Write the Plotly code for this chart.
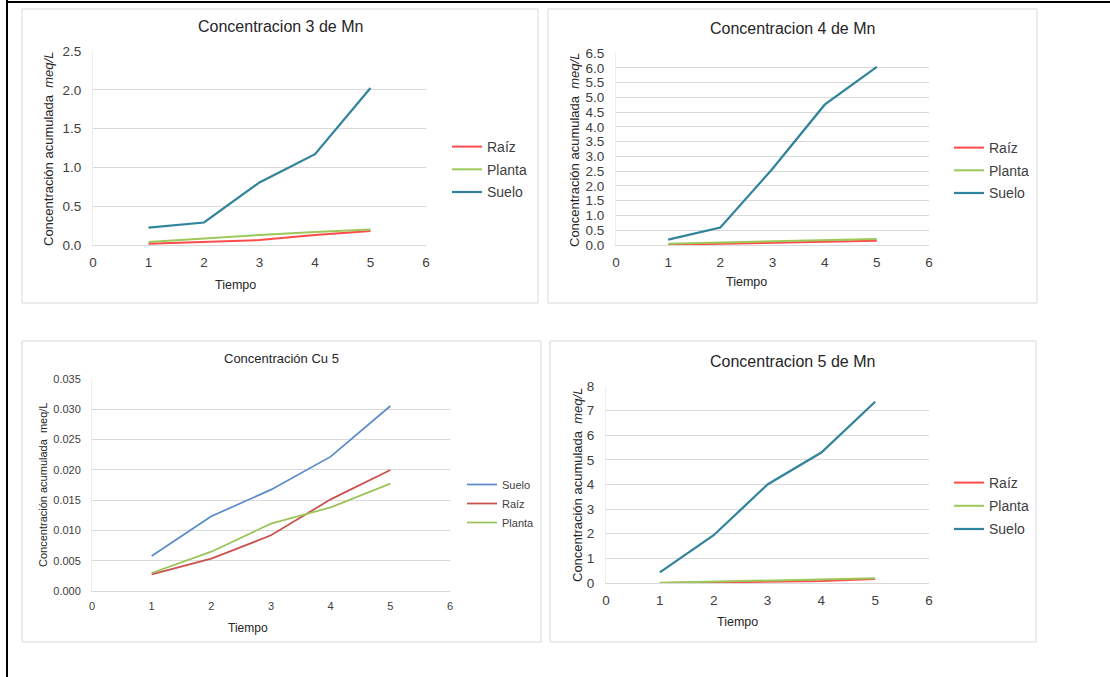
import plotly.graph_objects as go

W, H = 1110, 677

# ---------------- data ----------------
tiempo = [1, 2, 3, 4, 5]

# Panel 1: Concentracion 3 de Mn
mn3_raiz = [0.017, 0.04, 0.064, 0.13, 0.18]
mn3_planta = [0.04, 0.086, 0.13, 0.167, 0.20]
mn3_suelo = [0.223, 0.29, 0.806, 1.17, 2.024]

# Panel 2: Concentracion 4 de Mn
mn4_raiz = [0.01, 0.045, 0.08, 0.11, 0.14]
mn4_planta = [0.045, 0.08, 0.12, 0.17, 0.20]
mn4_suelo = [0.18, 0.59, 2.58, 4.75, 6.03]

# Panel 3: Concentración Cu 5
cu5_suelo = [0.00578, 0.01233, 0.01673, 0.02218, 0.03054]
cu5_raiz = [0.00275, 0.00534, 0.00919, 0.01513, 0.01998]
cu5_planta = [0.00297, 0.00649, 0.01112, 0.01381, 0.01772]

# Panel 4: Concentracion 5 de Mn
mn5_raiz = [0.0, 0.02, 0.05, 0.08, 0.16]
mn5_planta = [0.01, 0.05, 0.11, 0.14, 0.19]
mn5_suelo = [0.43, 1.94, 4.0, 5.30, 7.36]

titles = ["Concentracion 3 de Mn", "Concentracion 4 de Mn",
          "Concentración Cu 5", "Concentracion 5 de Mn"]
x_title = "Tiempo"
y_title_mn = "Concentración acumulada  <i>meq/L</i>"
y_title_cu = "Concentración acumulada  meq/L"

# ---------------- styling ----------------
FONT = "Liberation Sans, Arial, sans-serif"
C_RAIZ, C_PLANTA, C_SUELO = "#FF4B4B", "#9CC95A", "#31849B"
CU_SUELO, CU_RAIZ, CU_PLANTA = "#5B8BCB", "#C9504D", "#9BC35A"
GRID = "#D9D9D9"

def px(x):
    return x / W

def py(y):
    return 1 - y / H

# plot-area rectangles (left, top, right, bottom) in pixels
areas = [(93, 51, 426, 245), (616, 53, 929, 245),
         (92, 379, 450, 591), (606, 386, 929, 583)]

fig = go.Figure()

def add(panel, name, y, color, width, legend):
    sfx = "" if panel == 0 else str(panel + 1)
    fig.add_trace(go.Scatter(
        x=tiempo, y=y, name=name, mode="lines",
        line=dict(color=color, width=width),
        xaxis="x" + sfx, yaxis="y" + sfx,
        legend=legend, legendgroup=f"{legend}{name}",
    ))

add(0, "Raíz", mn3_raiz, C_RAIZ, 2, "legend")
add(0, "Planta", mn3_planta, C_PLANTA, 2, "legend")
add(0, "Suelo", mn3_suelo, C_SUELO, 2.25, "legend")

add(1, "Raíz", mn4_raiz, C_RAIZ, 2, "legend2")
add(1, "Planta", mn4_planta, C_PLANTA, 2, "legend2")
add(1, "Suelo", mn4_suelo, C_SUELO, 2.25, "legend2")

add(2, "Suelo", cu5_suelo, CU_SUELO, 1.75, "legend3")
add(2, "Raíz", cu5_raiz, CU_RAIZ, 1.75, "legend3")
add(2, "Planta", cu5_planta, CU_PLANTA, 1.75, "legend3")

add(3, "Raíz", mn5_raiz, C_RAIZ, 2, "legend4")
add(3, "Planta", mn5_planta, C_PLANTA, 2, "legend4")
add(3, "Suelo", mn5_suelo, C_SUELO, 2.25, "legend4")

yspecs = [
    dict(range=[0, 2.5], dtick=0.5, tickformat=".1f", size=13.5),
    dict(range=[0, 6.5], dtick=0.5, tickformat=".1f", size=13.5),
    dict(range=[0, 0.035], dtick=0.005, tickformat=".3f", size=11),
    dict(range=[0, 8], dtick=1, tickformat="d", size=13.5),
]

layout = dict(
    template="none",
    width=W, height=H,
    margin=dict(l=0, r=0, t=0, b=0, pad=0, autoexpand=False),
    paper_bgcolor="white", plot_bgcolor="white",
    font=dict(family=FONT, color="#404040"),
    showlegend=True,
)

for i, (l, t, r, b) in enumerate(areas):
    sfx = "" if i == 0 else str(i + 1)
    ys = yspecs[i]
    layout["xaxis" + sfx] = dict(
        domain=[px(l), px(r)], anchor="y" + sfx, range=[0, 6], dtick=1,
        showgrid=False, zeroline=False, showline=True, linecolor=GRID,
        linewidth=1, ticks="", ticklabelstandoff=5, automargin=False,
        tickfont=dict(size=ys["size"], color="#404040"), fixedrange=True,
    )
    layout["yaxis" + sfx] = dict(
        domain=[py(b), py(t)], anchor="x" + sfx, range=ys["range"],
        dtick=ys["dtick"], tickformat=ys["tickformat"],
        showgrid=True, gridcolor=GRID, gridwidth=1, zeroline=False,
        showline=True, linecolor="#EDEDED", linewidth=1, ticks="",
        ticklabelstandoff=8, automargin=False,
        tickfont=dict(size=ys["size"], color="#404040"), fixedrange=True,
    )

legend_specs = [
    ("legend", 447, 131, 14, 1.5),
    ("legend2", 949, 132, 14, 1.5),
    ("legend3", 462, 470, 11, 0),
    ("legend4", 949, 467, 14, 2),
]
for key, lx, ly, fs, gap in legend_specs:
    layout[key] = dict(
        x=px(lx), y=py(ly), xanchor="left", yanchor="top",
        xref="paper", yref="paper",
        font=dict(size=fs, color="#404040", family=FONT),
        bgcolor="rgba(0,0,0,0)", borderwidth=0,
        traceorder="grouped", tracegroupgap=gap, itemwidth=30,
    )

fig.update_layout(**layout)

# panel borders
panels = [(22, 9, 538, 303), (548, 9, 1037, 303),
          (22, 341, 541, 642), (550, 341, 1036, 642)]
shapes = []
for (l, t, r, b) in panels:
    shapes.append(dict(type="rect", xref="paper", yref="paper",
                       x0=px(l), x1=px(r), y0=py(b), y1=py(t),
                       line=dict(color="#D9D9D9", width=1), layer="below"))
# outer black frame lines (left and top)
shapes.append(dict(type="line", xref="paper", yref="paper",
                   x0=px(7), x1=px(7), y0=0, y1=1,
                   line=dict(color="black", width=2)))
shapes.append(dict(type="line", xref="paper", yref="paper",
                   x0=px(7), x1=1, y0=py(2), y1=py(2),
                   line=dict(color="black", width=2)))
fig.update_layout(shapes=shapes)

annotations = []
title_pos = [(280, 26, 16), (792, 28, 16), (281, 358, 13), (792, 361, 16)]
for txt, (x, y, fs) in zip(titles, title_pos):
    annotations.append(dict(text=txt, x=px(x), y=py(y), xref="paper",
                            yref="paper", xanchor="center", yanchor="middle",
                            showarrow=False,
                            font=dict(size=fs, color="#262626", family=FONT)))
xt_pos = [(235, 285, 12.5), (746, 282, 12.5), (248, 628, 12), (737, 622, 12.5)]
for (x, y, fs) in xt_pos:
    annotations.append(dict(text=x_title, x=px(x), y=py(y), xref="paper",
                            yref="paper", xanchor="center", yanchor="middle",
                            showarrow=False,
                            font=dict(size=fs, color="#262626", family=FONT)))
yt_pos = [(49, 149, 13, y_title_mn), (575, 150, 13, y_title_mn),
          (43, 485, 11, y_title_cu), (577, 485, 13, y_title_mn)]
for (x, y, fs, txt) in yt_pos:
    annotations.append(dict(text=txt, x=px(x), y=py(y), xref="paper",
                            yref="paper", xanchor="center", yanchor="middle",
                            textangle=-90, showarrow=False,
                            font=dict(size=fs, color="#262626", family=FONT)))
fig.update_layout(annotations=annotations)

fig.write_html("out.html", config={"displayModeBar": False})
